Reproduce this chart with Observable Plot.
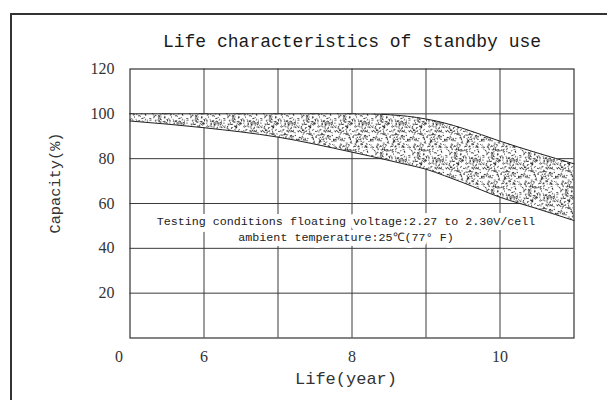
<!DOCTYPE html>
<html><head><meta charset="utf-8">
<script src="https://cdn.jsdelivr.net/npm/d3@7"></script>
<script src="https://cdn.jsdelivr.net/npm/@observablehq/plot@0.6"></script>
<style>
body{margin:0;background:#fff;}
#wrap{position:relative;width:607px;height:400px;overflow:hidden;background:#fff;}
#chart{position:absolute;left:0;top:0;}
#border{position:absolute;left:10px;top:13px;width:700px;height:500px;border-left:2px solid #333;border-top:2px solid #333;pointer-events:none;}
</style></head><body>
<div id="wrap"><div id="chart"></div><div id="border"></div></div>
<script>
// ---- data ----
const titleText = "Life characteristics of standby use";
const xLabelText = "Life(year)";
const yLabelText = "Capacity(%)";
const noteText = "Testing conditions floating voltage:2.27 to 2.30V/cell\nambient temperature:25\u2103(77\u00b0 F)";

const years = [5, 6, 7, 8, 8.25, 8.5, 8.75, 9, 9.25, 9.5, 10, 10.5, 11];
const upperCap = [100, 100, 100, 100, 99.9, 99.6, 98.9, 97.7, 95.9, 93.5, 87.8, 82.6, 77.7];
const lowerCap = [96.8, 93.8, 89.6, 82.9, 81.1, 79.2, 77.3, 75.3, 72.4, 69.3, 62.8, 57.7, 52.4];

const xTickValues = [6, 8, 10];
const xOriginValue = 5;
const xOriginLabel = "0";
const yTickValues = [20, 40, 60, 80, 100, 120];
const xGridValues = [6, 7, 8, 9, 10];
const yGridValues = [20, 40, 60, 80, 100];

const band = years.map((y, i) => ({year: y, upper: upperCap[i], lower: lowerCap[i]}));

const mono = "'Liberation Mono', 'DejaVu Sans Mono', monospace";
const serif = "'Liberation Serif', 'DejaVu Serif', serif";

const plot = Plot.plot({
  width: 607, height: 400,
  marginLeft: 129.5, marginRight: 33.5, marginTop: 68.5, marginBottom: 62.5,
  style: {background: "transparent"},
  x: {domain: [5, 11]},
  y: {domain: [0, 120]},
  marks: [
    Plot.gridX(xGridValues, {stroke: "#3a3a3a", strokeOpacity: 1, strokeWidth: 1}),
    Plot.gridY(yGridValues, {stroke: "#3a3a3a", strokeOpacity: 1, strokeWidth: 1}),
    Plot.areaY(band, {x: "year", y1: "lower", y2: "upper", curve: "monotone-x", fill: "url(#stipple)"}),
    Plot.line(band, {x: "year", y: "upper", curve: "monotone-x", stroke: "#222", strokeWidth: 1}),
    Plot.line(band, {x: "year", y: "lower", curve: "monotone-x", stroke: "#222", strokeWidth: 1}),
    Plot.text([noteText], {frameAnchor: "middle", dx: -6, dy: 24, fontFamily: mono, fontSize: 11.7,
      lineHeight: 1.37, fill: "#222", stroke: "white", strokeWidth: 10}),
    Plot.frame({stroke: "#333", strokeWidth: 1.2}),
    Plot.axisY(yTickValues, {tickSize: 0, tickPadding: 15.5, fontSize: 16, fontFamily: serif, color: "#333", label: null}),
    Plot.axisX(xTickValues, {tickSize: 0, tickPadding: 12.5, fontSize: 16, fontFamily: serif, color: "#333", label: null}),
    Plot.axisX([xOriginValue], {tickSize: 0, tickPadding: 12.5, fontSize: 16, fontFamily: serif, color: "#333", label: null,
      tickFormat: () => xOriginLabel, dx: -11}),
    Plot.text([titleText], {frameAnchor: "top", lineAnchor: "middle", dy: -27.5, fontFamily: mono, fontSize: 18, fill: "#1a1a1a"}),
    Plot.text([yLabelText], {frameAnchor: "left", textAnchor: "middle", rotate: -90, dx: -74.5, dy: -20.5, fontFamily: mono, fontSize: 15.3, fill: "#333"}),
    Plot.text([xLabelText], {frameAnchor: "bottom", lineAnchor: "middle", dy: 40.5, dx: -6, fontFamily: mono, fontSize: 17, fill: "#333"})
  ]
});

// stipple texture for the band (decorative pattern)
const svg = d3.select(plot);
const defs = svg.insert("defs", ":first-child");
const T = 37;
const pat = defs.append("pattern").attr("id", "stipple").attr("patternUnits", "userSpaceOnUse")
  .attr("width", T).attr("height", T);
pat.append("rect").attr("width", T).attr("height", T).attr("fill", "#fff");
let seed = 12345;
const rnd = () => (seed = (seed * 16807) % 2147483647) / 2147483647;
for (let i = 0; i < 260; i++) {
  const px = rnd() * T, py = rnd() * T, a = rnd() * 180;
  pat.append("rect").attr("x", px).attr("y", py).attr("width", 1.2 + rnd() * 1.2).attr("height", 0.9)
    .attr("fill", "#1a1a1a").attr("opacity", 0.5 + rnd() * 0.45)
    .attr("transform", `rotate(${a.toFixed(1)},${px.toFixed(2)},${py.toFixed(2)})`);
}

document.getElementById("chart").appendChild(plot);
</script>
</body></html>
